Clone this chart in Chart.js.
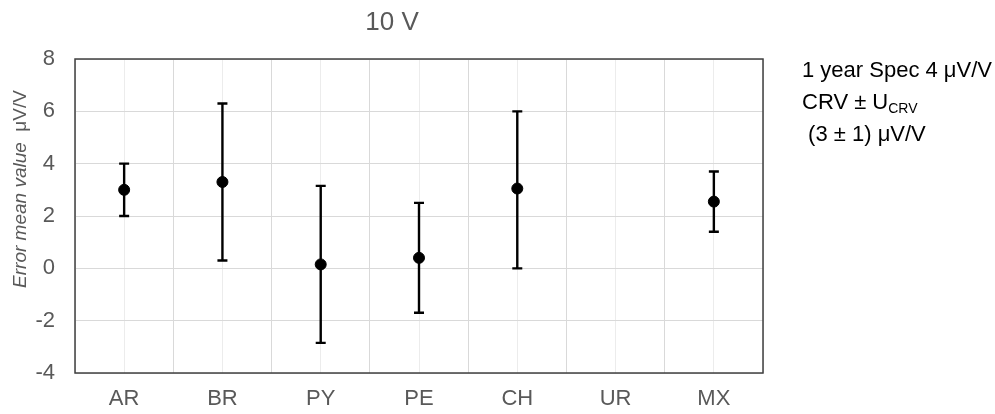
<!DOCTYPE html>
<html>
<head>
<meta charset="utf-8">
<script src="https://cdn.jsdelivr.net/npm/chart.js@4/dist/chart.umd.min.js"></script>
<style>
  html, body { margin: 0; padding: 0; background: #fff; }
  #wrap { width: 995px; height: 414px; }
</style>
</head>
<body>
<div id="wrap"><canvas id="myChart"></canvas></div>
<script>
const categories = ['AR', 'BR', 'PY', 'PE', 'CH', 'UR', 'MX'];
const meanValues = [3.0, 3.3, 0.15, 0.4, 3.05, null, 2.55];
const upperValues = [4.0, 6.3, 3.15, 2.5, 6.0, null, 3.7];
const lowerValues = [2.0, 0.3, -2.85, -1.7, 0.0, null, 1.4];
const yTicks = [-4, -2, 0, 2, 4, 6, 8];

const fontFamily = '"Liberation Sans", Arial, sans-serif';
const grey = '#595959';

const points = categories.map((c, i) => ({ x: i, y: meanValues[i] }));

// error bars, plot frame and the free texts
const extras = {
  id: 'extras',
  beforeDatasetsDraw(chart) {
    const { ctx, scales } = chart;
    ctx.save();
    ctx.strokeStyle = '#000';
    ctx.lineWidth = 2.4;
    categories.forEach((c, i) => {
      if (upperValues[i] == null) return;
      const x = scales.x.getPixelForValue(i);
      const top = scales.y.getPixelForValue(upperValues[i]);
      const bot = scales.y.getPixelForValue(lowerValues[i]);
      ctx.beginPath();
      ctx.moveTo(x, top); ctx.lineTo(x, bot);
      ctx.moveTo(x - 5, top); ctx.lineTo(x + 5, top);
      ctx.moveTo(x - 5, bot); ctx.lineTo(x + 5, bot);
      ctx.stroke();
    });
    ctx.restore();
  },
  afterDraw(chart) {
    const { ctx, chartArea } = chart;
    ctx.save();
    ctx.strokeStyle = '#404040';
    ctx.lineWidth = 1.5;
    ctx.strokeRect(chartArea.left, chartArea.top, chartArea.right - chartArea.left, chartArea.bottom - chartArea.top);

    // title
    ctx.fillStyle = grey;
    ctx.font = '26px ' + fontFamily;
    ctx.textAlign = 'center';
    ctx.textBaseline = 'middle';
    ctx.fillText('10 V', 392, 23);

    // y axis title, italic part + plain unit
    ctx.translate(21, 189);
    ctx.rotate(-Math.PI / 2);
    const part1 = 'Error mean value';
    const part2 = '  \u03bcV/V';
    ctx.font = 'italic 19px ' + fontFamily;
    const w1 = ctx.measureText(part1).width;
    ctx.font = '19px ' + fontFamily;
    const w2 = ctx.measureText(part2).width;
    const start = -(w1 + w2) / 2;
    ctx.textAlign = 'left';
    ctx.font = 'italic 19px ' + fontFamily;
    ctx.fillText(part1, start, 0);
    ctx.font = '19px ' + fontFamily;
    ctx.fillText(part2, start + w1, 0);
    ctx.setTransform(1, 0, 0, 1, 0, 0);

    // side note
    ctx.fillStyle = '#000';
    ctx.textAlign = 'left';
    ctx.font = '22px ' + fontFamily;
    ctx.fillText('1 year Spec 4 \u03bcV/V', 802, 71);
    const l2 = 'CRV \u00b1 U';
    ctx.fillText(l2, 802, 103);
    const wl2 = ctx.measureText(l2).width;
    ctx.font = '14px ' + fontFamily;
    ctx.fillText('CRV', 802 + wl2, 109);
    ctx.font = '22px ' + fontFamily;
    ctx.fillText(' (3 \u00b1 1) \u03bcV/V', 802, 135);
    ctx.restore();
  }
};

new Chart(document.getElementById('myChart'), {
  type: 'scatter',
  data: {
    datasets: [{
      data: points,
      backgroundColor: '#000',
      borderColor: '#000',
      pointRadius: 5.5,
      pointHoverRadius: 5.5
    }]
  },
  options: {
    responsive: true,
    maintainAspectRatio: false,
    animation: false,
    layout: { padding: { top: 59, right: 232, left: 0, bottom: 0 } },
    plugins: {
      legend: { display: false },
      tooltip: { enabled: false }
    },
    scales: {
      x: {
        type: 'linear',
        min: -0.5,
        max: 6.5,
        afterFit(scale) { scale.height = 41; },
        afterBuildTicks(scale) {
          const t = [];
          for (let v = -0.5; v <= 6.5; v += 0.5) t.push({ value: v });
          scale.ticks = t;
        },
        grid: {
          drawTicks: false,
          color: ctx => Number.isInteger(ctx.tick && ctx.tick.value) ? '#ececec' : '#d9d9d9',
          lineWidth: 1
        },
        border: { display: false },
        ticks: {
          autoSkip: false,
          maxRotation: 0,
          padding: 13,
          color: grey,
          font: { family: fontFamily, size: 22 },
          callback: v => Number.isInteger(v) ? categories[v] : ''
        }
      },
      y: {
        min: -4,
        max: 8,
        afterFit(scale) { scale.width = 75; },
        afterBuildTicks(scale) { scale.ticks = yTicks.map(v => ({ value: v })); },
        grid: { drawTicks: false, color: '#d9d9d9', lineWidth: 1 },
        border: { display: false },
        ticks: {
          padding: 20,
          color: grey,
          font: { family: fontFamily, size: 22 }
        }
      }
    }
  },
  plugins: [extras]
});
</script>
</body>
</html>
